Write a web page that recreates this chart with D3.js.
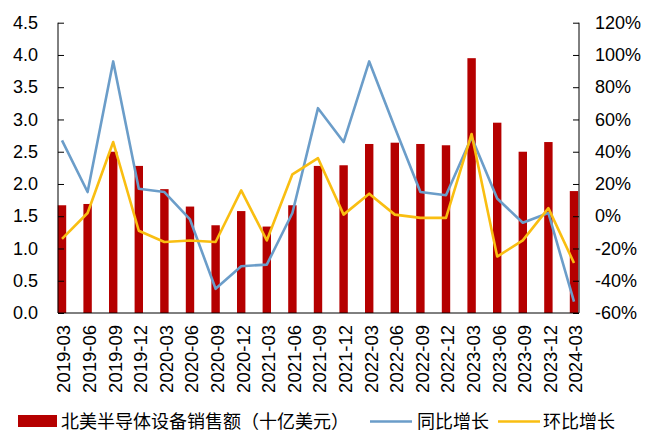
<!DOCTYPE html>
<html><head><meta charset="utf-8">
<script src="https://cdn.jsdelivr.net/npm/d3@7"></script>
<style>body{margin:0;background:#fff}svg{display:block}</style>
</head><body><svg id="c" width="646" height="440"></svg>
<script>
const categories = ["2019-03","2019-06","2019-09","2019-12","2020-03","2020-06","2020-09","2020-12","2021-03","2021-06","2021-09","2021-12","2022-03","2022-06","2022-09","2022-12","2023-03","2023-06","2023-09","2023-12","2024-03"];
const sales = [1.67,1.69,2.50,2.28,1.92,1.65,1.36,1.58,1.34,1.67,2.28,2.29,2.62,2.64,2.62,2.60,3.95,2.95,2.50,2.65,1.89];
const yoy = [47,15,96,17,15,-2,-45,-31,-30,2,67,46,96,55,15,13,49,11,-4,2,-53];
const qoq = [-14,2,46,-9,-16,-15,-16,16,-15,26,36,1,14,1,-1,-1,51,-25,-15,5,-29];
const leftTicks = [0,0.5,1,1.5,2,2.5,3,3.5,4,4.5];
const rightTicks = [-60,-40,-20,0,20,40,60,80,100,120];
const legendLabels = ["北美半导体设备销售额（十亿美元）","同比增长","环比增长"];

const svg = d3.select("#c");
const L = 58, R = 579, T = 22.7, B = 313;
const x = d3.scalePoint().domain(categories).range([62, 574]);
const yL = d3.scaleLinear().domain([0,4.5]).range([B,T]);
const yR = d3.scaleLinear().domain([-60,120]).range([B,T]);
const font = "'Liberation Sans', Arial, sans-serif";
const red = "#B50000", blue = "#6B9DC9", yellow = "#F9BE11";

// bars
svg.append("g").selectAll("rect").data(sales).join("rect")
  .attr("x",(d,i)=>x(categories[i])-4.2).attr("width",8.4)
  .attr("y",d=>yL(d)).attr("height",d=>yL(0)-yL(d)).attr("fill",red);

// lines
const line = d3.line().x((d,i)=>x(categories[i])).y(d=>yR(d));
svg.append("path").datum(yoy).attr("d",line).attr("fill","none").attr("stroke",blue).attr("stroke-width",2.6).attr("stroke-linejoin","round");
svg.append("path").datum(qoq).attr("d",line).attr("fill","none").attr("stroke",yellow).attr("stroke-width",2.6).attr("stroke-linejoin","round");

// axes
const gl = svg.append("g").attr("transform",`translate(${L},0)`)
  .call(d3.axisRight(yL).tickValues(leftTicks).tickSize(6).tickFormat(d3.format(".1f")));
gl.selectAll("text").attr("x",-20).attr("text-anchor","end");
const gr = svg.append("g").attr("transform",`translate(${R},0)`)
  .call(d3.axisLeft(yR).tickValues(rightTicks).tickSize(6).tickFormat(d=>d+"%"));
gr.selectAll("text").attr("x",16).attr("text-anchor","start");
[gl,gr].forEach(g=>{
  g.select(".domain").attr("d",`M0,${T}V${B}`).attr("stroke","#000");
  g.selectAll("line").attr("stroke","#000");
  g.selectAll("text").attr("font-size",18).attr("font-family",font).attr("fill","#000");
});
const gx = svg.append("g").attr("transform",`translate(0,${B})`)
  .call(d3.axisBottom(x).tickSize(0));
gx.select(".domain").attr("d",`M${L},0H${R}`).attr("stroke","#000");
gx.selectAll("text").attr("font-size",18.5).attr("font-family",font).attr("fill","#000")
  .attr("transform","rotate(-90)").attr("text-anchor","end").attr("x",-12).attr("y",1.5).attr("dy","0.35em");

// legend
const lg = svg.append("g").attr("font-family","'Noto Sans CJK SC', sans-serif").attr("font-size",18).attr("fill","#000");
lg.append("rect").attr("x",18).attr("y",415).attr("width",39).attr("height",12).attr("fill",red);
lg.append("text").attr("x",61).attr("y",428).text(legendLabels[0]);
lg.append("line").attr("x1",370).attr("x2",412).attr("y1",421.5).attr("y2",421.5).attr("stroke",blue).attr("stroke-width",2.6);
lg.append("text").attr("x",417).attr("y",428).text(legendLabels[1]);
lg.append("line").attr("x1",498).attr("x2",540).attr("y1",421.5).attr("y2",421.5).attr("stroke",yellow).attr("stroke-width",2.6);
lg.append("text").attr("x",543).attr("y",428).text(legendLabels[2]);
</script></body></html>
